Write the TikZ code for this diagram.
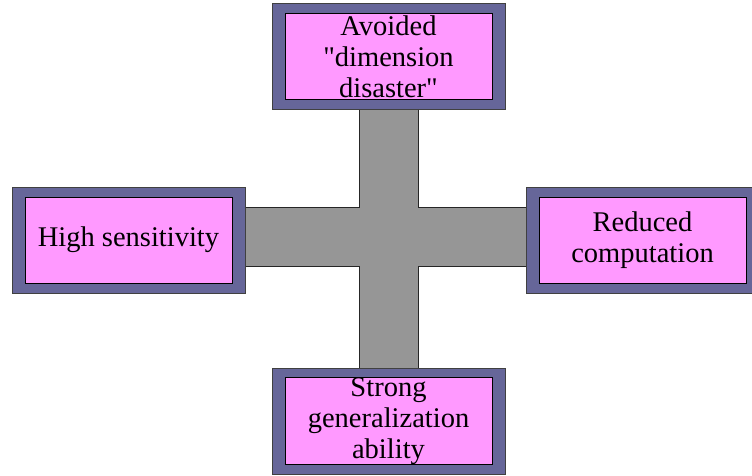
\documentclass[tikz,border=0pt]{standalone}
\usepackage{fontspec}
\setmainfont{Liberation Serif}[Ligatures=TeXOff]
\usetikzlibrary{backgrounds}
\definecolor{framebl}{HTML}{666699}
\definecolor{boxpink}{HTML}{FF99FF}
\definecolor{bargray}{HTML}{969696}

\begin{document}
\begin{tikzpicture}[x=1pt,y=-1pt,
  outerbox/.style={draw=black!75,fill=framebl,line width=0.8pt,inner sep=0pt,minimum width=233pt,minimum height=106pt},
  innerbox/.style={draw=black,fill=boxpink,line width=0.8pt,inner sep=0pt,minimum width=207pt,minimum height=86pt,align=center,font=\fontsize{28.5}{31}\selectfont},
  barline/.style={line width=60pt,black!85},
  barfill/.style={line width=58pt,bargray}]
\useasboundingbox (0,0) rectangle (752,475);
\clip (0,0) rectangle (752,475);
% the four boxes
\node[outerbox] (top) at (388.5,56.5) {};
\node[innerbox] (topin) at (top) {Avoided\\"dimension\\disaster"};
\node[outerbox] (left) at (128.5,240) {};
\node[innerbox] (leftin) at (left) {High sensitivity};
\node[outerbox] (right) at (642.5,240) {};
\node[innerbox] (rightin) at (right) {Reduced\\computation};
\node[outerbox] (bottom) at (388.5,421) {};
\node[innerbox] (bottomin) at (bottom) {Strong\\generalization\\ability};
% the cross behind them
\begin{scope}[on background layer]
\draw[barline] (top) -- (bottom);
\draw[barline] ([yshift=3pt]left.east) -- ([yshift=3pt]right.west);
\draw[barfill] (top) -- (bottom);
\draw[barfill] ([yshift=3pt]left.east) -- ([yshift=3pt]right.west);
\end{scope}
\end{tikzpicture}
\end{document}
